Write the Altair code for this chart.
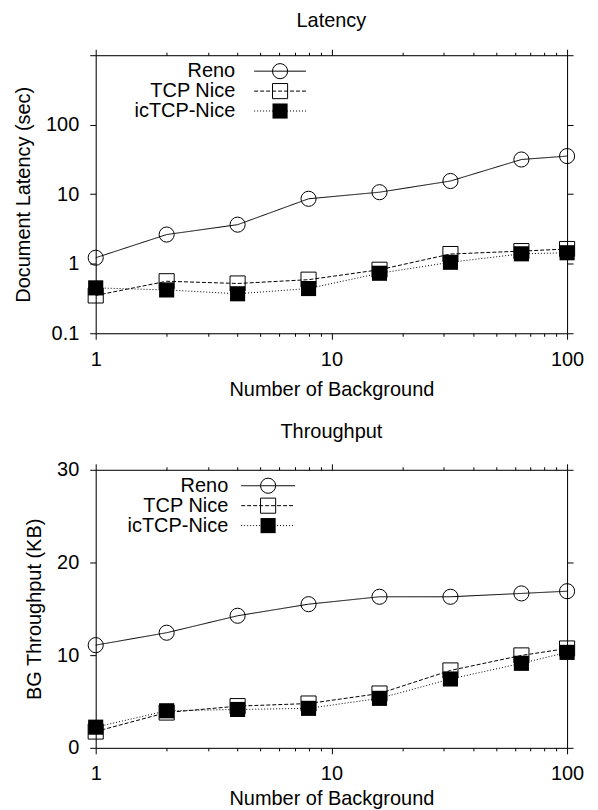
import altair as alt
import pandas as pd

FONT = "Liberation Sans"

x_vals = [1, 2, 4, 8, 16, 32, 64, 100]
series_names = ["Reno", "TCP Nice", "icTCP-Nice"]

lat_reno = [1.22, 2.63, 3.65, 8.6, 10.7, 15.5, 31.6, 35.4]
lat_nice = [0.35, 0.56, 0.52, 0.59, 0.82, 1.38, 1.52, 1.63]
lat_ictcp = [0.45, 0.42, 0.37, 0.44, 0.73, 1.05, 1.39, 1.44]

thr_reno = [11.08, 12.42, 14.25, 15.5, 16.3, 16.3, 16.66, 16.9]
thr_nice = [1.76, 3.81, 4.5, 4.78, 5.86, 8.35, 9.97, 10.72]
thr_ictcp = [2.23, 4.0, 4.14, 4.26, 5.34, 7.43, 9.12, 10.3]

x_tick_values = [1, 2, 3, 4, 5, 6, 7, 8, 9, 10, 20, 30, 40, 50, 60, 70, 80, 90, 100]
lat_tick_values = [0.1, 1, 10, 100, 1000]
thr_tick_values = [0, 10, 20, 30]

dash_range = [[1, 0], [4, 2], [1, 2]]

W, H = 473, 279
FS = 20


def long_df(a, b, c):
    rows = []
    for name, vals in zip(series_names, [a, b, c]):
        for xv, yv in zip(x_vals, vals):
            rows.append({"x": xv, "y": yv, "series": name})
    return pd.DataFrame(rows)


major_test = "datum.value==1||datum.value==10||datum.value==100"


def x_axis(orient, labels, title=None, title_pad=9):
    return alt.Axis(
        orient=orient,
        values=x_tick_values,
        labels=labels,
        grid=False,
        domainColor="black",
        tickColor="black",
        tickSize={"condition": {"test": major_test, "value": 6}, "value": 3},
        labelFlush=False,
        labelOverlap=False,
        labelFont=FONT,
        labelFontSize=FS,
        labelColor="black",
        labelPadding=10,
        labelExpr="(" + major_test + ") ? format(datum.value, 'd') : ''",
        titleFont=FONT,
        titleFontSize=FS,
        titleFontWeight="normal",
        titleColor="black",
        titlePadding=title_pad,
        title=title,
    )


def y_axis(orient, labels, values, label_expr, title=None):
    return alt.Axis(
        orient=orient,
        values=values,
        labels=labels,
        grid=False,
        domainColor="black",
        tickColor="black",
        tickSize=6,
        labelFont=FONT,
        labelFontSize=FS,
        labelColor="black",
        labelPadding=11,
        labelExpr=label_expr,
        titleFont=FONT,
        titleFontSize=FS,
        titleFontWeight="normal",
        titleColor="black",
        titlePadding=12,
        title=title,
    )


def panel(df, y_scale, y_values, y_label_expr, y_title, title, leg, title_pad):
    text_x, line_a, line_b, mark_x = leg
    x_scale = alt.Scale(type="log", domain=[1, 100], nice=False)
    dash = alt.StrokeDash("series:N", scale=alt.Scale(domain=series_names, range=dash_range), legend=None)

    lines = alt.Chart(df).mark_line(color="black", strokeWidth=1).encode(
        x=alt.X("x:Q", scale=x_scale, axis=x_axis("bottom", True, "Number of Background", title_pad)),
        y=alt.Y("y:Q", scale=y_scale, axis=y_axis("left", True, y_values, y_label_expr, y_title)),
        strokeDash=dash,
        detail="series:N",
    )
    hollow = alt.Chart(df).transform_filter(
        alt.FieldOneOfPredicate(field="series", oneOf=series_names[:2])
    ).mark_point(filled=False, color="black", strokeWidth=1, size=230, opacity=1).encode(
        x=alt.X("x:Q", scale=x_scale, axis=x_axis("top", False)),
        y=alt.Y("y:Q", scale=y_scale, axis=y_axis("right", False, y_values, y_label_expr)),
        shape=alt.Shape("series:N", scale=alt.Scale(domain=series_names[:2], range=["circle", "square"]), legend=None),
    )
    filled = alt.Chart(df).transform_filter(
        alt.FieldEqualPredicate(field="series", equal=series_names[2])
    ).mark_square(filled=True, color="black", size=230, opacity=1).encode(
        x=alt.X("x:Q", scale=x_scale, axis=None),
        y=alt.Y("y:Q", scale=y_scale, axis=None),
    )

    legend_layers = []
    shapes = ["circle", "square", "square"]
    fills = [False, False, True]
    for i, name in enumerate(series_names):
        yy = 16 + 20 * i
        ldf = pd.DataFrame({"label": [name]})
        legend_layers.append(
            alt.Chart(ldf).mark_text(align="right", baseline="middle", font=FONT, fontSize=FS, color="black").encode(
                x=alt.value(text_x), y=alt.value(yy), text="label:N"
            )
        )
        legend_layers.append(
            alt.Chart(ldf).mark_rule(color="black", strokeWidth=1, strokeDash=dash_range[i]).encode(
                x=alt.value(line_a), x2=alt.value(line_b), y=alt.value(yy)
            )
        )
        legend_layers.append(
            alt.Chart(ldf).mark_point(shape=shapes[i], filled=fills[i], color="black", size=230, opacity=1, strokeWidth=1).encode(
                x=alt.value(mark_x), y=alt.value(yy)
            )
        )

    return alt.layer(lines, hollow, filled, *legend_layers).resolve_axis(
        x="independent", y="independent"
    ).properties(
        width=W,
        height=H,
        title=alt.TitleParams(title, font=FONT, fontSize=FS, fontWeight="normal", color="black", anchor="middle", offset=18),
    )


lat_df = long_df(lat_reno, lat_nice, lat_ictcp)
thr_df = long_df(thr_reno, thr_nice, thr_ictcp)

top = panel(
    lat_df,
    alt.Scale(type="log", domain=[0.1, 1000], nice=False),
    lat_tick_values,
    "datum.value >= 1000 ? '' : format(datum.value, '~g')",
    "Document Latency (sec)",
    "Latency",
    (140, 159, 211, 185),
    10,
)
bottom = panel(
    thr_df,
    alt.Scale(type="linear", domain=[0, 30], nice=False, zero=False),
    thr_tick_values,
    "format(datum.value, 'd')",
    "BG Throughput (KB)",
    "Throughput",
    (133, 146, 200, 173),
    5,
)

chart = alt.vconcat(top, bottom, spacing=21).configure_view(stroke="black", strokeWidth=1).configure(
    background="white",
    padding={"left": 5, "top": 1, "right": 5, "bottom": 0},
)

chart.save("out.html", embed_options={"renderer": "svg", "actions": False})
